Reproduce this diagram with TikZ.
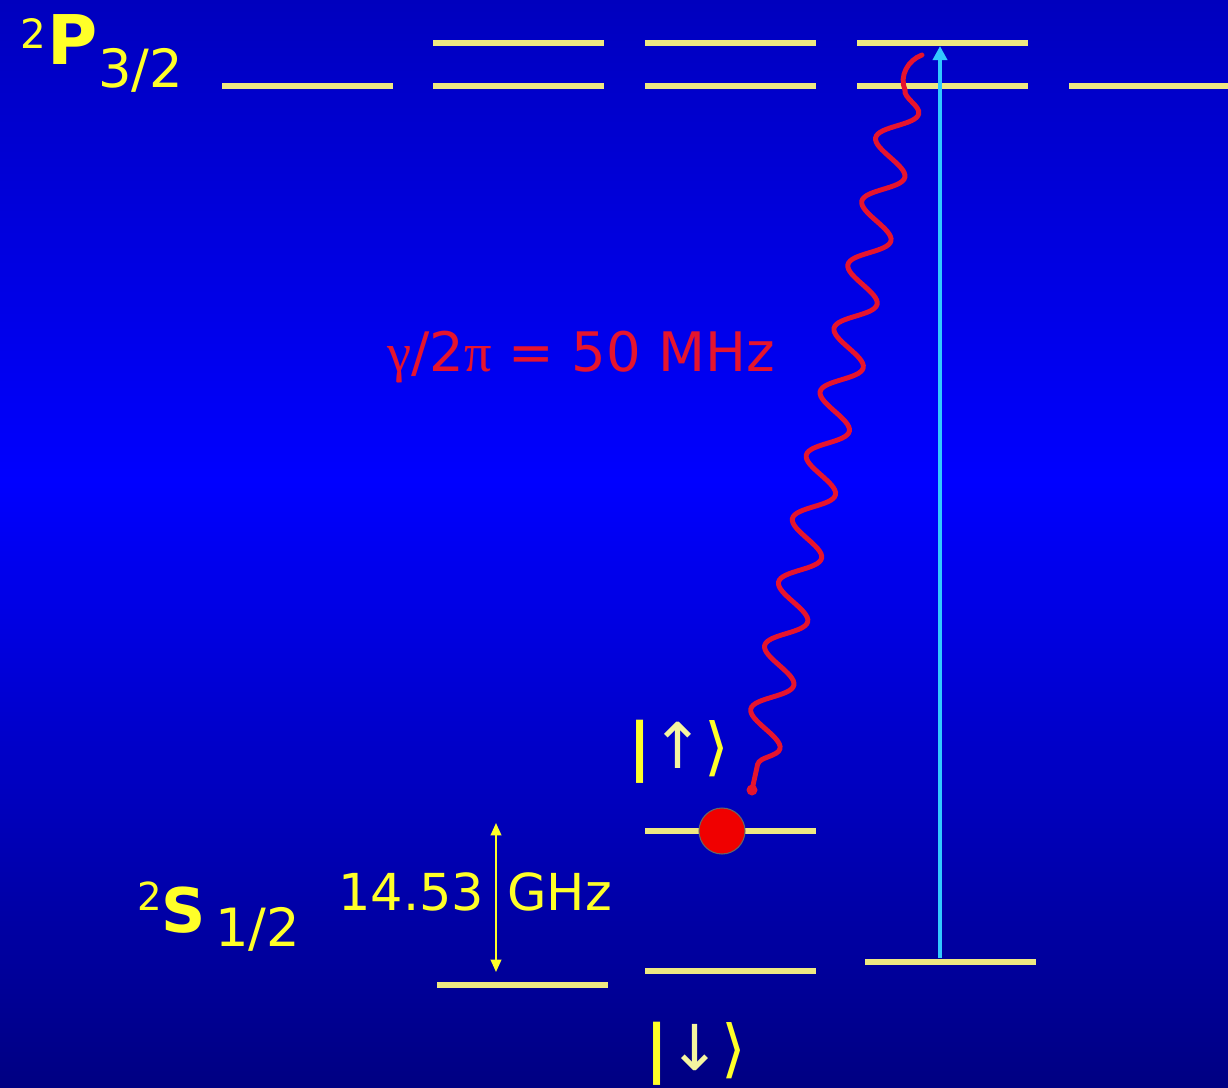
\documentclass[tikz,border=0pt]{standalone}
\usepackage{fontspec}
\setmainfont{DejaVu Sans}
\newfontfamily\greekfont{Liberation Serif}
\usetikzlibrary{arrows.meta,decorations.pathmorphing,positioning}

\definecolor{bgtop}{RGB}{0,0,190}
\definecolor{bgmid}{RGB}{0,0,255}
\definecolor{bgbot}{RGB}{0,0,130}
\definecolor{levelyellow}{RGB}{238,232,130}
\definecolor{labelyellow}{RGB}{255,255,40}
\definecolor{paleyellow}{RGB}{245,245,160}
\definecolor{laser}{RGB}{50,200,255}
\definecolor{decaycol}{RGB}{230,20,45}
\definecolor{iondot}{RGB}{240,0,0}

\begin{document}
\begin{tikzpicture}[x=0.02cm, y=-0.02cm,
    % Define level and arrow styles
    energy/.style={line width=3.4pt, levelyellow},
    laserarrow/.style={-{Triangle[length=8pt,width=8pt]}, line width=2.6pt, laser},
    splitarrow/.style={{Triangle[length=7pt,width=6pt]}-{Triangle[length=7pt,width=6pt]}, line width=1.1pt, labelyellow},
    photon/.style={decaycol, line width=2.8pt, line cap=round},
    termlabel/.style={labelyellow, inner sep=0pt, anchor=base west},
    ket/.style={inner sep=0pt, font=\fontsize{36}{36}\selectfont}
]

% Picture size (pixels of the sketch)
\useasboundingbox (0,0) rectangle (1228,1088);

% Background gradient
\fill[top color=bgtop, bottom color=bgmid] (0,0) rectangle (1228,480);
\fill[top color=bgmid, bottom color=bgbot] (0,480) rectangle (1228,1088);

% Level width
\def\lw{171}

% P_{3/2} levels
\foreach \x in {433, 645, 857} {
    \draw[energy] (\x,43) -- ++(\lw,0);
}
\foreach \x in {222, 433, 645, 857, 1069} {
    \draw[energy] (\x,86) -- ++(\lw,0);
}

% S_{1/2} levels
\draw[energy] (437,985) -- ++(\lw,0);
\draw[energy] (645,971) -- ++(\lw,0);
\draw[energy] (645,831) -- ++(\lw,0);
\draw[energy] (865,962) -- ++(\lw,0);

% Term labels
\node[termlabel] (pterm) at (20,65) {{\fontsize{23}{23}\selectfont\raisebox{9.5pt}{2}}\hspace{1pt}{\bfseries\fontsize{39}{39}\selectfont P}{\fontsize{30}{30}\selectfont\raisebox{-13pt}{3/2}}};
\node[termlabel] (sterm) at (137,932) {{\fontsize{22}{22}\selectfont\raisebox{12.5pt}{2}}{\bfseries\fontsize{35}{35}\selectfont S}\hspace{5pt}{\fontsize{30}{30}\selectfont\raisebox{-8.5pt}{1/2}}};

% Hyperfine splitting
\coordinate (split top) at (496,823);
\coordinate (split bot) at (496,972);
\draw[splitarrow] (split top) -- (split bot);
\node[termlabel, font=\fontsize{29}{29}\selectfont] (freqnum) at (338,910) {14.53};
\node[termlabel, font=\fontsize{29}{29}\selectfont] (frequnit) at (507,910) {GHz};

% Laser drive
\coordinate (laser start) at (940,958);
\coordinate (laser end) at (940,46);
\draw[laserarrow] (laser start) -- (laser end);

% Spontaneous decay
\coordinate (decay top) at (922,55);
\coordinate (decay knee) at (905,90);
\coordinate (decay end) at (752,790);
\draw[photon] (decay top) .. controls (908,60) and (899,76) .. (decay knee);
\draw[photon, decorate, decoration={snake, segment length=1.3cm, amplitude=0.37cm}] (decay knee) -- (decay end);
\fill[decaycol] (decay end) circle (5.5);
\node[decaycol, font=\fontsize{31}{31}\selectfont, inner sep=0pt] (rate) at (581,357) {{\greekfont γ}/2{\greekfont π} = 50 MHz};

% Ion and qubit states
\node[circle, fill=iondot, draw=black!60, line width=0.6pt, minimum size=0.92cm, inner sep=0pt] (ion) at (722,831) {};
\node[ket] (up) at (679,752) {\textcolor{labelyellow}{\bfseries|}\textcolor{paleyellow}{↑}\textcolor{labelyellow}{⟩}};
\node[ket] (down) at (696,1054) {\textcolor{labelyellow}{\bfseries|}\textcolor{paleyellow}{↓}\textcolor{labelyellow}{⟩}};

\end{tikzpicture}
\end{document}
